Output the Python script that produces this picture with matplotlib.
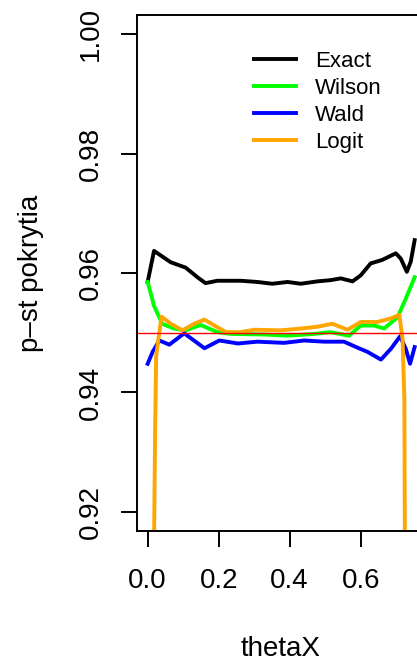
import numpy as np
import matplotlib
matplotlib.use("Agg")
import matplotlib.pyplot as plt

plt.rcParams["font.family"] = ["Liberation Sans", "DejaVu Sans"]

# ------------------------------------------------------------
# coverage probability data
# ------------------------------------------------------------
exact_x = [0.0, 0.018, 0.065, 0.107, 0.14, 0.163, 0.196, 0.262, 0.309, 0.351,
           0.394, 0.431, 0.478, 0.515, 0.544, 0.577, 0.6, 0.628, 0.661, 0.699,
           0.713, 0.730, 0.741, 0.752]
exact_y = [0.9585, 0.9637, 0.9618, 0.9609, 0.9593, 0.9583, 0.9587, 0.9587, 0.9585, 0.9582,
           0.9585, 0.9582, 0.9586, 0.9588, 0.9591, 0.9586, 0.9596, 0.9616, 0.9622, 0.9633,
           0.9624, 0.9602, 0.9619, 0.9655]

wilson_x = [0.0, 0.018, 0.041, 0.074, 0.107, 0.149, 0.196, 0.234, 0.328, 0.394,
            0.469, 0.515, 0.567, 0.6, 0.638, 0.666, 0.704, 0.727, 0.752]
wilson_y = [0.9585, 0.9545, 0.9515, 0.9507, 0.9504, 0.9513, 0.9501, 0.9498, 0.9497, 0.9495,
            0.9498, 0.9501, 0.9495, 0.9512, 0.9512, 0.9507, 0.9526, 0.9557, 0.9593]

wald_x = [0.0, 0.014, 0.033, 0.061, 0.103, 0.16, 0.202, 0.254, 0.309, 0.384,
          0.441, 0.497, 0.553, 0.591, 0.619, 0.657, 0.685, 0.711, 0.727, 0.739, 0.752]
wald_y = [0.9448, 0.9468, 0.9487, 0.9480, 0.9499, 0.9474, 0.9487, 0.9482, 0.9485, 0.9483,
          0.9487, 0.9485, 0.9485, 0.9475, 0.9468, 0.9455, 0.9473, 0.9494, 0.9473, 0.9448, 0.9476]

logit_x = [0.016, 0.018, 0.021, 0.024, 0.039, 0.065, 0.098, 0.131, 0.16, 0.188,
           0.221, 0.262, 0.3, 0.375, 0.431, 0.478, 0.52, 0.563, 0.6, 0.647,
           0.685, 0.709, 0.718, 0.723, 0.731]
logit_y = [0.80, 0.915, 0.9335, 0.9462, 0.9527, 0.9515, 0.9504, 0.9515, 0.9522, 0.9512,
           0.9501, 0.9501, 0.9505, 0.9504, 0.9507, 0.9510, 0.9515, 0.9505, 0.9518, 0.9518,
           0.9524, 0.9530, 0.9489, 0.9389, 0.80]

nominal = 0.95
y_ticks = [0.92, 0.94, 0.96, 0.98, 1.00]
x_ticks = [0.0, 0.2, 0.4, 0.6]

series = [
    ("Exact", exact_x, exact_y, "#000000"),
    ("Wilson", wilson_x, wilson_y, "#00FF00"),
    ("Wald", wald_x, wald_y, "#0000FF"),
    ("Logit", logit_x, logit_y, "#FFA500"),
]

# ------------------------------------------------------------
# plot
# ------------------------------------------------------------
fig = plt.figure(figsize=(4.17, 6.62), dpi=100)
W, H = 417, 662
ax = fig.add_axes([137 / W, 1 - 531 / H, 287.6 / W, 516 / H])

for name, xs, ys, col in series:
    ax.plot(xs, ys, color=col, lw=2.8, label=name, solid_joinstyle="round")

ax.axhline(nominal, color="#FF0000", lw=1.0)

ax.set_xlim(-0.03, 0.78)
ax.set_ylim(0.9168, 1.0032)

ax.set_xticks(x_ticks)
ax.set_xticklabels([f"{v:.1f}" for v in x_ticks], fontsize=20)
ax.set_yticks(y_ticks)
ax.set_yticklabels([f"{v:.2f}" for v in y_ticks], fontsize=20,
                   rotation=90, va="center")

ax.tick_params(axis="both", direction="out", length=11.5, width=1.4)
ax.tick_params(axis="x", pad=15)
ax.tick_params(axis="y", pad=12)
for s in ax.spines.values():
    s.set_linewidth(1.4)

ax.set_xlabel("thetaX", fontsize=20)
ax.xaxis.set_label_coords(0.5, -0.203)
ax.set_ylabel("p–st pokrytia", fontsize=20)
ax.yaxis.set_label_coords(-0.322, 0.5)

ax.legend(loc="upper left", bbox_to_anchor=(254 / W, 1 - 51 / H),
          bbox_transform=fig.transFigure, frameon=False, fontsize=16,
          handlelength=1.9, handletextpad=0.85, labelspacing=0.27,
          borderpad=0, borderaxespad=0)

fig.savefig("out.png", dpi=100)
